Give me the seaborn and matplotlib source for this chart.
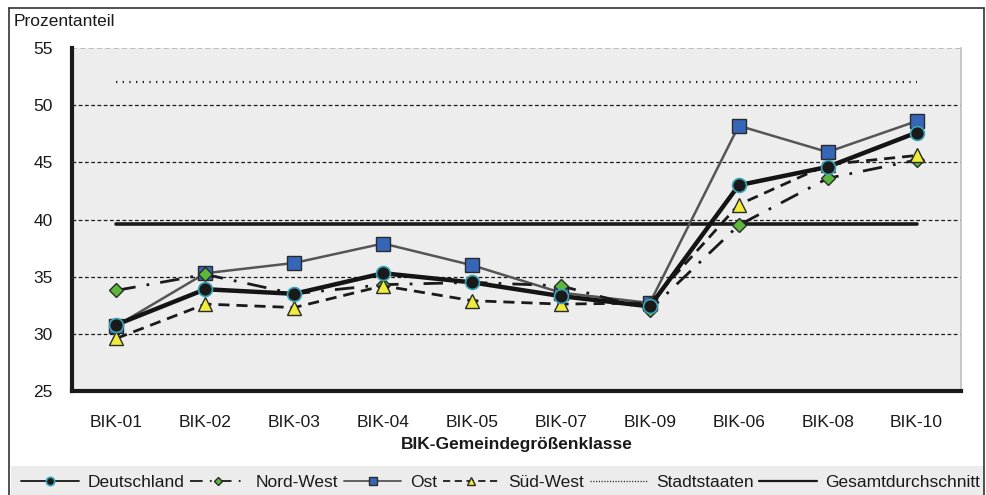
import matplotlib
matplotlib.use("Agg")
import matplotlib.pyplot as plt
from matplotlib.lines import Line2D
from matplotlib.patches import Rectangle
import numpy as np
import pandas as pd
import seaborn as sns

# Gemeindegrößenklassen in the displayed order
kategorien = ["BIK-01", "BIK-02", "BIK-03", "BIK-04", "BIK-05",
              "BIK-07", "BIK-09", "BIK-06", "BIK-08", "BIK-10"]

deutschland = [30.8, 33.9, 33.5, 35.3, 34.5, 33.3, 32.4, 43.0, 44.6, 47.6]
nord_west   = [33.8, 35.2, 33.5, 34.3, 34.5, 34.2, 32.1, 39.5, 43.6, 45.2]
ost         = [30.7, 35.3, 36.2, 37.9, 36.0, 33.6, 32.7, 48.2, 45.9, 48.6]
sued_west   = [29.6, 32.6, 32.3, 34.2, 32.9, 32.6, 32.7, 41.3, 44.8, 45.6]
stadtstaaten = 52.0
gesamtdurchschnitt = 39.6

y_ticks = [25, 30, 35, 40, 45, 50, 55]

sns.set_theme(style="white")
plt.rcParams["font.family"] = ["Liberation Sans", "DejaVu Sans"]

W, H = 986, 495
fig = plt.figure(figsize=(W / 100, H / 100), dpi=100)
ax = fig.add_axes([72 / W, 1 - 391 / H, (961 - 72) / W, (391 - 48) / H])
ax.set_facecolor("#ededed")

df = pd.DataFrame({
    "klasse": kategorien,
    "Deutschland": deutschland,
    "Nord-West": nord_west,
    "Ost": ost,
    "Süd-West": sued_west,
    "Stadtstaaten": [stadtstaaten] * len(kategorien),
    "Gesamtdurchschnitt": [gesamtdurchschnitt] * len(kategorien),
})
df["pos"] = np.arange(len(kategorien))

# reference levels
sns.lineplot(data=df, x="pos", y="Stadtstaaten", ax=ax, color="#222222",
             lw=1.6, linestyle=(0, (0.6, 2.4)), zorder=2)
sns.lineplot(data=df, x="pos", y="Gesamtdurchschnitt", ax=ax, color="#1a1a1a",
             lw=2.6, zorder=2)

styles = {
    "Nord-West": dict(color="#1a1a1a", lw=2.0, linestyle=(0, (7, 4, 1, 4)),
                      marker="D", markersize=7.5, markerfacecolor="#5cb83c",
                      markeredgecolor="#2a2a2a", markeredgewidth=1.0),
    "Süd-West": dict(color="#1a1a1a", lw=2.0, linestyle=(0, (4, 2.5)),
                     marker="^", markersize=10, markerfacecolor="#f0ec3c",
                     markeredgecolor="#2a2a2a", markeredgewidth=1.0),
    "Ost": dict(color="#555555", lw=1.8, linestyle="-",
                marker="s", markersize=9.5, markerfacecolor="#3566b8",
                markeredgecolor="#2a2a2a", markeredgewidth=1.0),
    "Deutschland": dict(color="#141414", lw=3.2, linestyle="-",
                        marker="o", markersize=10, markerfacecolor="#1a1a1a",
                        markeredgecolor="#3aa6b9", markeredgewidth=1.2),
}
order_z = {"Nord-West": 4, "Süd-West": 5, "Ost": 3, "Deutschland": 6}
for name in ["Ost", "Nord-West", "Deutschland", "Süd-West"]:
    sns.lineplot(data=df, x="pos", y=name, ax=ax, zorder=order_z[name],
                 **styles[name])

ax.set_xlim(-0.5, len(kategorien) - 0.5)
ax.set_ylim(25, 55)
ax.set_yticks(y_ticks)
ax.set_yticklabels([str(v) for v in y_ticks], fontsize=12.5)
ax.set_xticks(np.arange(len(kategorien)))
ax.set_xticklabels(kategorien, fontsize=12.5)
ax.set_xticks(np.arange(len(kategorien) + 1) - 0.5, minor=True)
ax.tick_params(axis="x", which="major", length=0, pad=17, colors="#1a1a1a")
ax.tick_params(axis="x", which="minor", length=5, width=2, color="#1a1a1a", direction="out")
ax.tick_params(axis="y", length=4, width=2, color="#1a1a1a", direction="out",
               pad=10, colors="#1a1a1a")

for v in y_ticks[1:-1]:
    ax.axhline(v, color="#1a1a1a", lw=0.9, linestyle=(0, (3, 2)), zorder=1)
ax.axhline(55, color="#b5b5b5", lw=1.2, linestyle=(0, (3, 2)), zorder=1)

ax.spines["left"].set_linewidth(3)
ax.spines["left"].set_color("#1a1a1a")
ax.spines["bottom"].set_linewidth(3)
ax.spines["bottom"].set_color("#1a1a1a")
ax.spines["top"].set_visible(False)
ax.spines["right"].set_color("#c0c0c0")
ax.spines["right"].set_linewidth(1.2)

ax.set_xlabel("BIK-Gemeindegrößenklasse", fontsize=12.5, fontweight="bold",
              labelpad=5, color="#1a1a1a")
ax.set_ylabel("")
fig.text(14 / W, 1 - 22 / H, "Prozentanteil", fontsize=12.5, va="center",
         ha="left", color="#1a1a1a")

# legend band
fig.add_artist(Rectangle((11 / W, 0), (984 - 11) / W, (495 - 466) / H,
                         transform=fig.transFigure, facecolor="#ececec",
                         edgecolor="none", zorder=0))

handles = [
    Line2D([], [], **styles["Deutschland"]),
    Line2D([], [], **styles["Nord-West"]),
    Line2D([], [], **styles["Ost"]),
    Line2D([], [], **styles["Süd-West"]),
    Line2D([], [], color="#222222", lw=1.0, linestyle=(0, (0.8, 1.2))),
    Line2D([], [], color="#1a1a1a", lw=1.6),
]
labels = ["Deutschland", "Nord-West", "Ost", "Süd-West", "Stadtstaaten",
          "Gesamtdurchschnitt"]
for h in handles[:4]:
    h.set_markersize(h.get_markersize() * 0.6)
    h.set_linewidth(1.3)
leg = fig.legend(handles, labels, loc="lower left", bbox_to_anchor=(16 / W, 0.0),
                 ncol=6, fontsize=12.5, frameon=False,
                 handlelength=3.3, handletextpad=0.5, columnspacing=0.33,
                 borderpad=0.3, borderaxespad=0.0)
for t in leg.get_texts():
    t.set_color("#1a1a1a")

# outer frame
for xs, ys in [([9, 9], [8, 495]), ([9, 984], [8, 8]), ([984, 984], [8, 495])]:
    fig.add_artist(Line2D([x / W for x in xs], [1 - y / H for y in ys],
                          color="#333333", lw=1.2, zorder=10))

fig.savefig("out.png", dpi=100)
